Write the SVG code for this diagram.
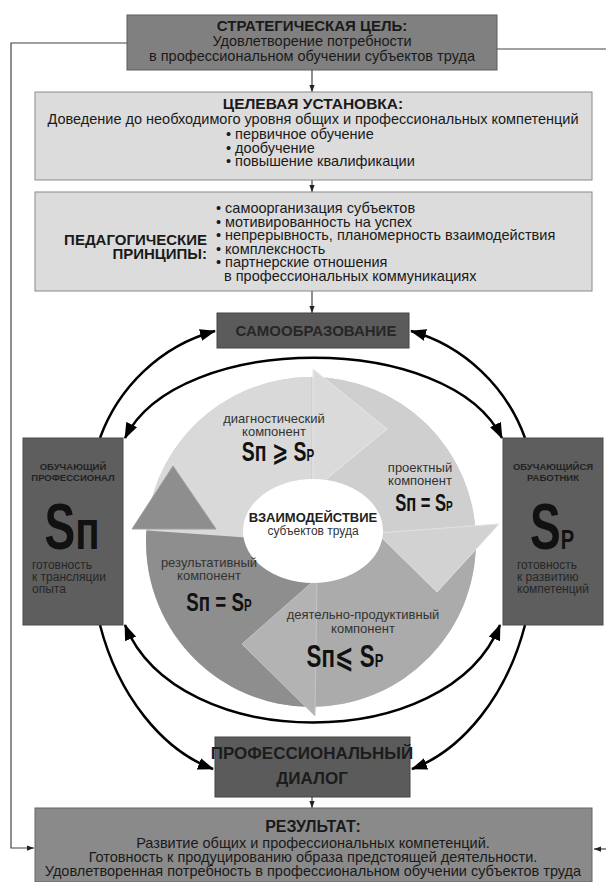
<svg xmlns="http://www.w3.org/2000/svg" width="606" height="882" viewBox="0 0 606 882">
<defs>
<marker id="ah" viewBox="0 0 16 12" refX="15" refY="6" markerWidth="16" markerHeight="12" markerUnits="userSpaceOnUse" orient="auto-start-reverse"><path d="M0,0 L16,6 L0,12 z" fill="#000"/></marker>
<marker id="sa" viewBox="0 0 8 6" refX="8" refY="3" markerWidth="7" markerHeight="6" markerUnits="userSpaceOnUse" orient="auto"><path d="M0,0 L8,3 L0,6 z" fill="#222"/></marker>
<style>
text{font-family:"Liberation Sans",Arial,"DejaVu Sans",sans-serif;fill:#1a1a1a}
.t{font-size:14.5px}
.b{font-weight:bold}
.c{text-anchor:middle}
.big{font-weight:bold;font-family:"Liberation Sans","DejaVu Sans",sans-serif;fill:#111}
.lbl{font-size:13px;fill:#333}
.bx{font-size:12px;fill:#262626}
.thin{fill:none;stroke:#444;stroke-width:1.2}
.arc{fill:none;stroke:#000;stroke-width:2.5}
</style>
</defs>
<rect width="606" height="882" fill="#fff"/>

<g id="connectors">
<path class="thin" d="M127,43 H11 V848 H34" marker-end="url(#sa)"/>
<path class="thin" d="M497,49 H606"/>
<path class="thin" d="M606,849 H594" marker-end="url(#sa)"/>
<path class="thin" d="M312,70 V92" marker-end="url(#sa)"/>
<path class="thin" d="M312,180 V192" marker-end="url(#sa)"/>
<path class="thin" d="M312,291 V313" marker-end="url(#sa)"/>
<path class="thin" d="M312,797 V808" marker-end="url(#sa)"/>
<path class="arc" d="M100,438 C118,388 160,346 215,331" marker-end="url(#ah)"/>
<path class="arc" d="M525,438 C507,388 465,346 411,331" marker-end="url(#ah)"/>
<path class="arc" d="M125,438 C178,331 450,331 502,438" marker-start="url(#ah)" marker-end="url(#ah)"/>
<path class="arc" d="M125,625 C178,755 448,755 500,625" marker-start="url(#ah)" marker-end="url(#ah)"/>
<path class="arc" d="M100,625 C118,695 162,750 213,769" marker-end="url(#ah)"/>
<path class="arc" d="M525,625 C507,695 463,750 412,769" marker-end="url(#ah)"/>
</g>

<g id="goal">
<rect x="127" y="15" width="370" height="55" fill="#808080" stroke="#5c5c5c"/>
<text class="b c" x="312" y="31" font-size="15">СТРАТЕГИЧЕСКАЯ ЦЕЛЬ:</text>
<text class="t c" x="312" y="46">Удовлетворение потребности</text>
<text class="t c" x="312" y="61">в профессиональном обучении субъектов труда</text>
</g>

<g id="target">
<rect x="35" y="92" width="557" height="88" fill="#dcdcdc" stroke="#8a8a8a"/>
<text class="b c" x="313" y="109" font-size="15.5">ЦЕЛЕВАЯ УСТАНОВКА:</text>
<text class="t c" x="313" y="124">Доведение до необходимого уровня общих и профессиональных компетенций</text>
<text class="t" x="226" y="139">• первичное обучение</text>
<text class="t" x="226" y="153">• дообучение</text>
<text class="t" x="226" y="166">• повышение квалификации</text>
</g>

<g id="principles">
<rect x="35" y="192" width="557" height="99" fill="#dcdcdc" stroke="#8a8a8a"/>
<text class="b" x="207" y="245" font-size="15" text-anchor="end">ПЕДАГОГИЧЕСКИЕ</text>
<text class="b" x="207" y="259" font-size="15" text-anchor="end">ПРИНЦИПЫ:</text>
<text class="t" x="216" y="213">• самоорганизация субъектов</text>
<text class="t" x="216" y="227">• мотивированность на успех</text>
<text class="t" x="216" y="240">• непрерывность, планомерность взаимодействия</text>
<text class="t" x="216" y="254">• комплексность</text>
<text class="t" x="216" y="267">• партнерские отношения</text>
<text class="t" x="224" y="281">в профессиональных коммуникациях</text>
</g>

<g id="selfedu">
<rect x="217" y="313" width="192" height="35" fill="#5b5b5b" stroke="#444"/>
<text class="b c" x="316" y="336" font-size="15" style="fill:#262626">САМООБРАЗОВАНИЕ</text>
</g>

<g id="cycle">
<circle cx="311" cy="542" r="165" fill="#c6c6c6"/>
<path d="M311,542 L146.4,530.5 A165,165 0 0 1 311,377 Z" fill="#d9d9d9"/>
<path d="M311,542 L311,377 A165,165 0 0 1 475.8,533.4 Z" fill="#cfcfcf"/>
<path d="M311,542 L475.8,533.4 A165,165 0 0 1 311,707 Z" fill="#ababab"/>
<path d="M311,542 L311,707 A165,165 0 0 1 146.4,530.5 Z" fill="#8e8e8e"/>
<polygon points="313,369 387,429 313,490" fill="#dadada" stroke="#e8e8e8"/>
<polygon points="377,533 499,524 437,592" fill="#d2d2d2" stroke="#e2e2e2"/>
<polygon points="317,578 315,716 242,644" fill="#b3b3b3" stroke="#c4c4c4"/>
<polygon points="132,529 173,466 216,529" fill="#8e8e8e" stroke="#9e9e9e"/>
<ellipse cx="313" cy="531" rx="70" ry="52" fill="#fff"/>
</g>

<g id="diag">
<text class="lbl c" x="274" y="423">диагностический</text>
<text class="lbl c" x="274" y="436">компонент</text>
<text class="big c" transform="translate(278,461) scale(0.72 1)" font-size="27">S<tspan>п</tspan> ⩾ S<tspan font-size="16">Р</tspan></text>
</g>

<g id="proj">
<text class="lbl c" x="420" y="472">проектный</text>
<text class="lbl c" x="420" y="485">компонент</text>
<text class="big c" transform="translate(424,511) scale(0.72 1)" font-size="23">S<tspan>п</tspan> = S<tspan font-size="14">Р</tspan></text>
</g>

<g id="center">
<text class="b c" x="313" y="522" font-size="13" style="fill:#222">ВЗАИМОДЕЙСТВИЕ</text>
<text class="c" x="313" y="535" font-size="12" style="fill:#333">субъектов труда</text>
</g>

<g id="result-comp">
<text class="lbl c" x="209" y="567">результативный</text>
<text class="lbl c" x="209" y="580">компонент</text>
<text class="big c" transform="translate(219,611) scale(0.72 1)" font-size="26">S<tspan>п</tspan> = S<tspan font-size="16">Р</tspan></text>
</g>

<g id="prod">
<text class="lbl c" x="363" y="619" font-size="13.5">деятельно-продуктивный</text>
<text class="lbl c" x="363" y="633" font-size="13.5">компонент</text>
<text class="big c" transform="translate(345,667) scale(0.72 1)" font-size="31">S<tspan>п</tspan>⩽ S<tspan font-size="18">Р</tspan></text>
</g>

<g id="teacher">
<rect x="23" y="438" width="100" height="187" fill="#5e5e5e" stroke="#4a4a4a"/>
<text class="b c" x="73" y="470" font-size="9.5" style="fill:#222">ОБУЧАЮЩИЙ</text>
<text class="b c" x="73" y="481" font-size="9.5" style="fill:#222">ПРОФЕССИОНАЛ</text>
<text class="big c" transform="translate(72,549) scale(0.72 1)" font-size="64">S<tspan font-size="56">п</tspan></text>
<text class="bx" x="32" y="569">готовность</text>
<text class="bx" x="32" y="581">к трансляции</text>
<text class="bx" x="32" y="593">опыта</text>
</g>

<g id="learner">
<rect x="503" y="438" width="100" height="187" fill="#5e5e5e" stroke="#4a4a4a"/>
<text class="b c" x="553" y="470" font-size="9.5" style="fill:#222">ОБУЧАЮЩИЙСЯ</text>
<text class="b c" x="553" y="481" font-size="9.5" style="fill:#222">РАБОТНИК</text>
<text class="big c" transform="translate(552,549) scale(0.72 1)" font-size="64">S<tspan font-size="28">Р</tspan></text>
<text class="bx" x="517" y="569">готовность</text>
<text class="bx" x="517" y="581">к развитию</text>
<text class="bx" x="517" y="593">компетенций</text>
</g>

<g id="dialog">
<rect x="215" y="737" width="195" height="60" fill="#5b5b5b" stroke="#444"/>
<text class="b c" x="312" y="759" font-size="17" style="fill:#1c1c1c">ПРОФЕССИОНАЛЬНЫЙ</text>
<text class="b c" x="312" y="784" font-size="17" style="fill:#1c1c1c">ДИАЛОГ</text>
</g>

<g id="result">
<rect x="35" y="808" width="557" height="74" fill="#8a8a8a" stroke="#666"/>
<text class="b c" x="313" y="832" font-size="16">РЕЗУЛЬТАТ:</text>
<text class="t c" x="313" y="848">Развитие общих и профессиональных компетенций.</text>
<text class="t c" x="313" y="862">Готовность к продуцированию образа предстоящей деятельности.</text>
<text class="t c" x="313" y="876">Удовлетворенная потребность в профессиональном обучении субъектов труда</text>
</g>
</svg>
